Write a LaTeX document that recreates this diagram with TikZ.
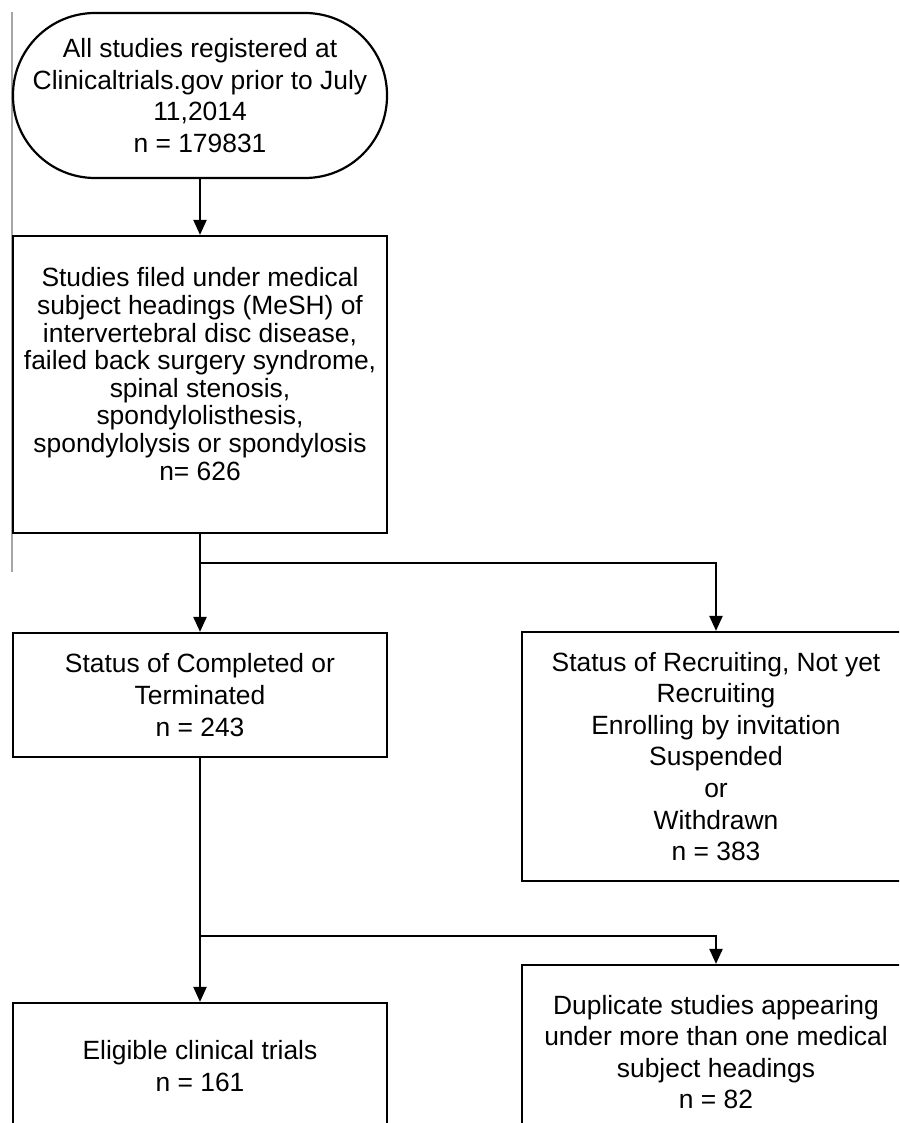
\documentclass[tikz,border=0pt]{standalone}
\usepackage{fontspec}
\setmainfont{Liberation Sans}
\usetikzlibrary{arrows.meta}

\begin{document}
\begin{tikzpicture}[x=0.5pt,y=-0.5pt,line width=1.1pt,
  every node/.style={draw,align=center,inner sep=0pt,minimum width=187pt,font=\fontsize{13.2}{15.8}\selectfont},
  start/.style={rounded corners=41pt,minimum height=82.5pt},
  arr/.style={-{Triangle[width=6.5pt,length=7.5pt]}}]
\useasboundingbox (0,0) rectangle (899,1123);
\clip (0,0) rectangle (899,1123);
\draw[gray!70,line width=0.6pt] (12,12) -- (12,572);

\node[start] (b1) at (200,95.5) {All studies registered at\\Clinicaltrials.gov prior to July\\11,2014\\n = 179831};
\node[minimum height=148.5pt,font=\fontsize{13.2}{13.8}\selectfont] (b2) at (200,384.5) {Studies filed under medical\\subject headings (MeSH) of\\intervertebral disc disease,\\failed back surgery syndrome,\\spinal stenosis,\\spondylolisthesis,\\spondylolysis or spondylosis\\n= 626\\[-3.3pt]};

\node[minimum height=62pt] (b3) at (200,695) {Status of Completed or\\Terminated\\n = 243};
\node[minimum width=194pt,minimum height=124.5pt] (b4) at (716,756.5) {Status of Recruiting, Not yet\\Recruiting\\Enrolling by invitation\\Suspended\\or\\Withdrawn\\n = 383};

\node[minimum height=63pt] (b5) at (200,1066) {Eligible clinical trials\\n = 161};
\node[minimum width=194pt,minimum height=87pt] (b6) at (716,1052) {Duplicate studies appearing\\under more than one medical\\subject headings\\n = 82};

\coordinate (j1) at (200,563);
\coordinate (j2) at (200,936);

\draw[arr] (b1) -- (b2);
\draw (b2) -- (j1);
\draw[arr] (j1) -- (b3);
\draw[arr] (j1) -| (b4);
\draw (b3) -- (j2);
\draw[arr] (j2) -- (b5);
\draw[arr] (j2) -| (b6);

\end{tikzpicture}
\end{document}
